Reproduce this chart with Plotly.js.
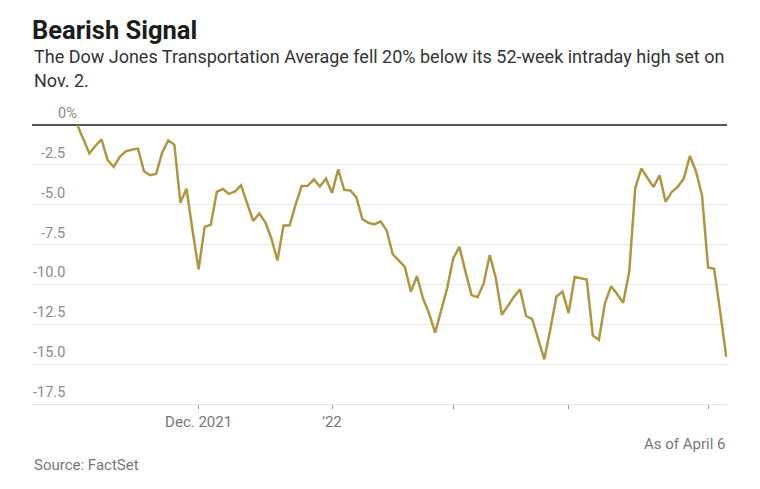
<!DOCTYPE html>
<html>
<head>
<meta charset="utf-8">
<script src="https://cdn.plot.ly/plotly-3.0.1.min.js"></script>
<style>
html,body{margin:0;padding:0;background:#fff;}
#chart{width:760px;height:489px;}
</style>
</head>
<body>
<div id="chart"></div>
<script>
// Daily trading-session values, Nov. 2, 2021 to April 6, 2022 (% below 52-week intraday high)
const values = [
  0, -0.9, -1.78, -1.3, -0.9, -2.2, -2.63, -2.0, -1.65, -1.55,
  -1.48, -2.9, -3.15, -3.07, -1.72, -0.96, -1.23, -4.88, -4.0, -6.6,
  -9.05, -6.39, -6.26, -4.2, -4.01, -4.32, -4.17, -3.78, -4.9, -6.02,
  -5.55, -6.1, -7.12, -8.5, -6.3, -6.3, -4.98, -3.83, -3.81, -3.41,
  -3.86, -3.36, -4.26, -2.79, -4.07, -4.11, -4.53, -5.9, -6.14, -6.23,
  -6.04, -6.6, -8.1, -8.48, -8.9, -10.46, -9.47, -10.88, -11.82, -13.03,
  -11.7, -10.2, -8.35, -7.64, -9.2, -10.67, -10.8, -9.94, -8.16, -9.6,
  -11.9, -11.33, -10.78, -10.3, -11.98, -12.17, -13.47, -14.7, -12.8, -10.76,
  -10.46, -11.8, -9.54, -9.63, -9.7, -13.2, -13.47, -11.17, -10.12, -10.6,
  -11.15, -9.2, -3.94, -2.73, -3.28, -3.9, -3.15, -4.82, -4.2, -3.88,
  -3.36, -1.94, -2.9, -4.4, -8.94, -9.02, -11.72, -14.54
];
// x ticks: trading-session positions of month starts
const xTickPos = [20, 42, 62, 81, 104];
const xTickText = ['Dec. 2021', "'22", '', '', ''];
// y ticks
const yTickVals = [0, -2.5, -5, -7.5, -10, -12.5, -15, -17.5];
const yTickText = ['0%', '-2.5', '-5.0', '-7.5', '-10.0', '-12.5', '-15.0', '-17.5'];

const titleText = 'Bearish Signal';
const subtitle1 = 'The Dow Jones Transportation Average fell 20% below its 52-week intraday high set on';
const subtitle2 = 'Nov. 2.';
const noteText = 'As of April 6';
const sourceText = 'Source: FactSet';

const FONT = 'Roboto, "Open Sans", sans-serif';
const W = 760, H = 489;
const mL = 32, mR = 33, mT = 125, mB = 85;
const plotW = W - mL - mR;
const plotH = H - mT - mB;
const labelRightPx = 67; // right edge of numeric y labels in page px
const labelX = (labelRightPx - mL) / plotW;
const zeroLabelX = (56 - mL) / plotW; // "0%" hangs past the right edge

const annotations = [];
yTickVals.forEach((v, k) => {
  const isZero = (v === 0);
  annotations.push({
    xref: 'paper', yref: 'y', x: isZero ? zeroLabelX : labelX, y: v,
    text: yTickText[k], showarrow: false,
    xanchor: isZero ? 'left' : 'right', yanchor: 'bottom', yshift: 1,
    font: {family: FONT, size: 14.5, color: '#8a8a8a'}
  });
});
// subtitle lines
annotations.push({
  xref: 'paper', yref: 'paper', x: 0, y: 1 + (mT - 69) / plotH,
  text: subtitle1, showarrow: false, xanchor: 'left', yanchor: 'bottom',
  font: {family: FONT, size: 18, color: '#333333'}
});
annotations.push({
  xref: 'paper', yref: 'paper', x: 0, y: 1 + (mT - 93) / plotH,
  text: subtitle2, showarrow: false, xanchor: 'left', yanchor: 'bottom',
  font: {family: FONT, size: 18, color: '#333333'}
});
annotations.push({
  xref: 'paper', yref: 'paper', x: 1, y: -(455 - (H - mB)) / plotH,
  text: noteText, showarrow: false, xanchor: 'right', yanchor: 'bottom',
  font: {family: FONT, size: 15, color: '#777777'}
});
annotations.push({
  xref: 'paper', yref: 'paper', x: 0, y: -(476 - (H - mB)) / plotH,
  text: sourceText, showarrow: false, xanchor: 'left', yanchor: 'bottom',
  font: {family: FONT, size: 15, color: '#777777'}
});

const trace = {
  type: 'scatter', mode: 'lines',
  y: values, x0: 0, dx: 1,
  line: {color: '#ae9742', width: 2.5, shape: 'linear'},
  hoverinfo: 'skip'
};

const layout = {
  width: W, height: H,
  margin: {l: mL, r: mR, t: mT, b: mB, pad: 0},
  paper_bgcolor: '#ffffff', plot_bgcolor: '#ffffff',
  showlegend: false,
  title: {
    text: '<b>' + titleText + '</b>',
    xref: 'container', yref: 'container',
    x: mL / W, xanchor: 'left',
    y: 1 - 39 / H, yanchor: 'bottom',
    font: {family: FONT, size: 25.5, color: '#1c1c1c'}
  },
  xaxis: {
    range: [-7.47, 107.12],
    tickmode: 'array', tickvals: xTickPos, ticktext: xTickText,
    ticks: 'outside', ticklen: 4, tickwidth: 1, tickcolor: '#9a9a9a',
    tickfont: {family: FONT, size: 15, color: '#777777'},
    showgrid: false, zeroline: false,
    showline: true, linecolor: '#e4e4e4', linewidth: 1,
    fixedrange: true
  },
  yaxis: {
    range: [-17.5, 0],
    tickmode: 'array', tickvals: yTickVals,
    showticklabels: false, ticks: '',
    showgrid: true, gridcolor: '#e9e9e9', gridwidth: 1,
    zeroline: true, zerolinecolor: '#555555', zerolinewidth: 1.5,
    showline: false, fixedrange: true
  },
  annotations: annotations
};

Plotly.newPlot('chart', [trace], layout, {displayModeBar: false, staticPlot: true});
</script>
</body>
</html>
